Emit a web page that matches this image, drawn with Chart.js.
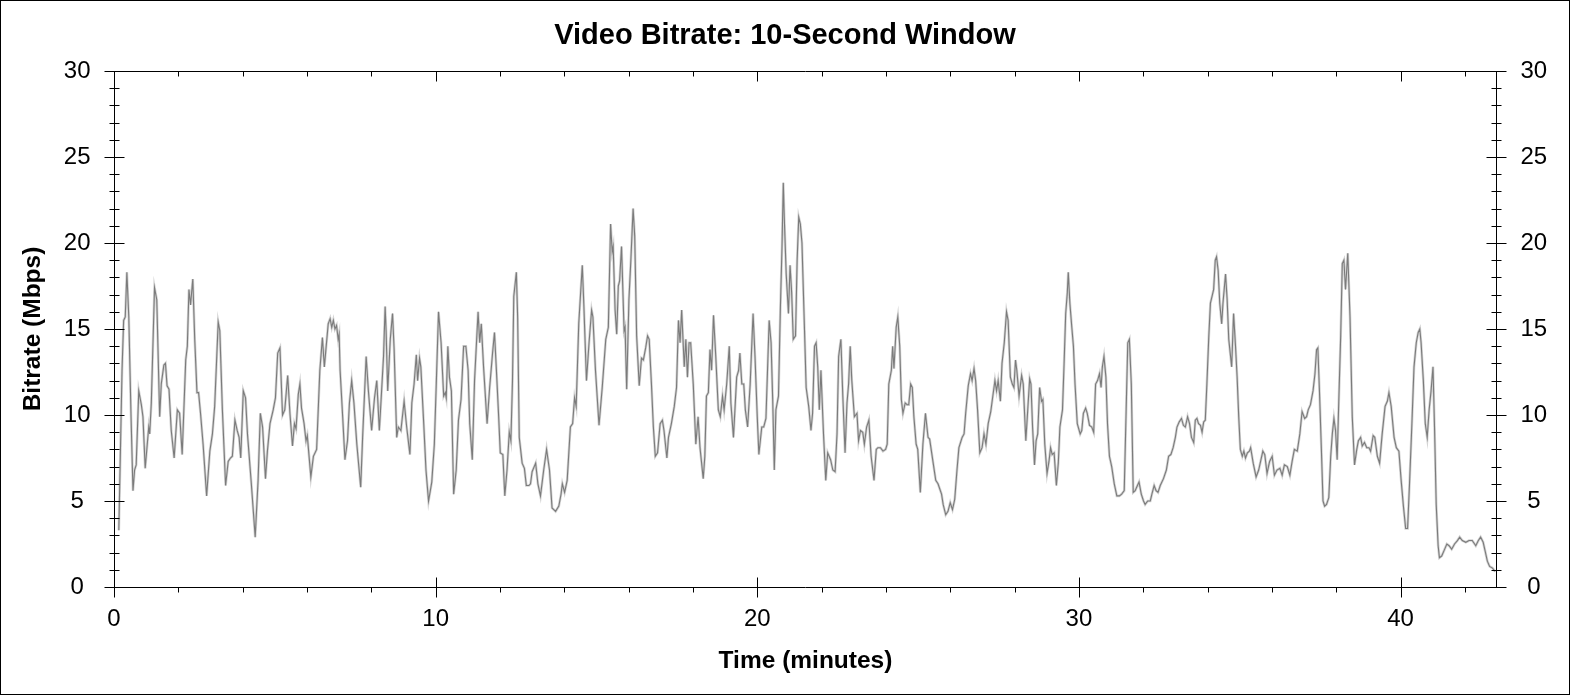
<!DOCTYPE html>
<html>
<head>
<meta charset="utf-8">
<title>Video Bitrate: 10-Second Window</title>
<script src="https://cdn.jsdelivr.net/npm/chart.js@4.4.1/dist/chart.umd.min.js"></script>
<style>
  html, body { margin: 0; padding: 0; background: #fff; }
  #wrap { width: 1570px; height: 695px; }
</style>
</head>
<body>
<div id="wrap"><canvas id="bitrateChart" width="1570" height="695"></canvas></div>
<script>
// time in minutes, bitrate in Mbps
const minutes = [
  0.15, 0.19, 0.25, 0.30, 0.35, 0.40, 0.46, 0.53, 0.59, 0.64, 0.69, 0.77, 0.85, 0.90, 0.97,
  1.08, 1.11, 1.16, 1.26, 1.33, 1.42, 1.47, 1.55, 1.60, 1.65, 1.71, 1.78, 1.87, 1.97,
  2.04, 2.12, 2.23, 2.28, 2.33, 2.38, 2.45, 2.51, 2.58, 2.63, 2.69, 2.77, 2.88, 2.98,
  3.06, 3.13, 3.24, 3.29, 3.37, 3.47, 3.55, 3.62, 3.68, 3.76, 3.83, 3.89, 3.94,
  4.02, 4.09, 4.15, 4.27, 4.39, 4.48, 4.55, 4.62, 4.71, 4.77, 4.85, 4.95,
  5.02, 5.09, 5.16, 5.24, 5.31, 5.40, 5.47, 5.55, 5.61, 5.66, 5.73, 5.78, 5.83, 5.91, 5.97,
  6.01, 6.12, 6.20, 6.30, 6.40, 6.48, 6.54, 6.66, 6.72, 6.77, 6.82, 6.87, 6.92, 6.97,
  7.00, 7.03, 7.11, 7.18, 7.26, 7.32, 7.39, 7.46, 7.55, 7.67, 7.73, 7.84, 7.91,
  8.01, 8.10, 8.17, 8.25, 8.32, 8.38, 8.43, 8.46, 8.51, 8.59, 8.66, 8.71, 8.79, 8.84, 8.92,
  9.02, 9.10, 9.20, 9.26, 9.33, 9.40, 9.44, 9.50, 9.54, 9.63, 9.70, 9.78, 9.88, 9.96,
  10.02, 10.09, 10.17, 10.25, 10.30, 10.33, 10.38, 10.43, 10.49, 10.56, 10.64, 10.71, 10.79, 10.87, 10.94,
  11.01, 11.06, 11.14, 11.21, 11.32, 11.37, 11.42, 11.49, 11.60, 11.68, 11.77, 11.83, 11.89, 11.96,
  12.01, 12.09, 12.15, 12.22, 12.29, 12.34, 12.39, 12.43, 12.51, 12.55, 12.60, 12.69, 12.76, 12.82, 12.90, 12.95,
  13.00, 13.11, 13.18, 13.26, 13.36, 13.45, 13.54, 13.62, 13.73, 13.83, 13.90, 13.94,
  14.01, 14.09, 14.19, 14.26, 14.32, 14.37, 14.45, 14.56, 14.61, 14.69, 14.77, 14.85, 14.89, 14.97,
  15.08, 15.18, 15.29, 15.37, 15.44, 15.49, 15.52, 15.58, 15.63, 15.68, 15.72, 15.78, 15.86, 15.89, 15.94,
  16.01, 16.07, 16.14, 16.19, 16.25, 16.33, 16.40, 16.46, 16.53, 16.59, 16.64, 16.71, 16.77, 16.83, 16.90, 16.98,
  17.05, 17.10, 17.19, 17.24, 17.33, 17.42, 17.49, 17.55, 17.60, 17.65, 17.73, 17.78, 17.83, 17.88, 17.93,
  18.01, 18.09, 18.16, 18.22, 18.32, 18.37, 18.42, 18.48, 18.53, 18.58, 18.64, 18.71, 18.79, 18.85, 18.92, 18.97,
  19.05, 19.13, 19.18, 19.26, 19.36, 19.42, 19.46, 19.52, 19.58, 19.63, 19.70, 19.78, 19.87, 19.93,
  20.00, 20.05, 20.14, 20.20, 20.27, 20.37, 20.43, 20.48, 20.53, 20.58, 20.66, 20.72, 20.77, 20.81, 20.84, 20.90, 20.97,
  21.02, 21.07, 21.12, 21.19, 21.24, 21.29, 21.34, 21.39, 21.47, 21.52, 21.60, 21.67, 21.72, 21.78, 21.83, 21.88, 21.93, 21.98,
  22.06, 22.13, 22.19, 22.28, 22.35, 22.42, 22.48, 22.53, 22.60, 22.66, 22.73, 22.79, 22.84, 22.89, 22.94,
  23.02, 23.10, 23.15, 23.21, 23.28, 23.33, 23.40, 23.47, 23.54, 23.63, 23.70, 23.75, 23.83, 23.91, 23.99,
  24.04, 24.09, 24.17, 24.21, 24.25, 24.32, 24.37, 24.43, 24.48, 24.53, 24.60, 24.66, 24.71, 24.77, 24.82, 24.87, 24.94, 24.99,
  25.07, 25.15, 25.23, 25.31, 25.36, 25.47, 25.55, 25.62, 25.73, 25.78, 25.86, 25.93,
  26.00, 26.07, 26.14, 26.21, 26.27, 26.37, 26.43, 26.48, 26.56, 26.63, 26.68, 26.74, 26.79, 26.85, 26.92, 26.99,
  27.05, 27.11, 27.18, 27.26, 27.31, 27.39, 27.44, 27.49, 27.56, 27.61, 27.68, 27.75, 27.80, 27.87, 27.93, 27.98,
  28.03, 28.07, 28.14, 28.22, 28.27, 28.35, 28.41, 28.47, 28.51, 28.56, 28.62, 28.67, 28.72, 28.78, 28.84, 28.88, 28.94,
  29.01, 29.07, 29.12, 29.17, 29.23, 29.30, 29.36, 29.41, 29.49, 29.54, 29.59, 29.64, 29.67, 29.72, 29.78, 29.83, 29.88, 29.95,
  30.04, 30.09, 30.14, 30.21, 30.26, 30.33, 30.40, 30.46, 30.52, 30.58, 30.64, 30.69, 30.73, 30.78, 30.84, 30.89, 30.95,
  31.02, 31.10, 31.18, 31.26, 31.33, 31.41, 31.47, 31.52, 31.57, 31.63, 31.69, 31.75, 31.82, 31.87, 31.94,
  32.01, 32.06, 32.14, 32.22, 32.27, 32.34, 32.40, 32.46, 32.53, 32.63, 32.72, 32.79, 32.86, 32.93,
  33.00, 33.05, 33.12, 33.19, 33.25, 33.31, 33.38, 33.44, 33.50, 33.57, 33.62, 33.67, 33.72, 33.78, 33.83, 33.88, 33.93, 33.98,
  34.04, 34.09, 34.14, 34.19, 34.24, 34.28, 34.33, 34.38, 34.44, 34.48, 34.56, 34.61, 34.66, 34.75, 34.77, 34.81, 34.87, 34.92, 34.97,
  35.02, 35.08, 35.13, 35.18, 35.24, 35.30, 35.34, 35.42, 35.51, 35.59, 35.72, 35.78, 35.85, 35.93,
  36.01, 36.08, 36.16, 36.25, 36.32, 36.39, 36.48, 36.56, 36.63, 36.70, 36.79, 36.87, 36.94,
  37.02, 37.08, 37.13, 37.20, 37.28, 37.34, 37.39, 37.43, 37.48, 37.54, 37.59, 37.64, 37.70, 37.77, 37.83, 37.88, 37.93, 37.98,
  38.03, 38.09, 38.14, 38.19, 38.24, 38.29, 38.36, 38.43, 38.50, 38.57, 38.64, 38.69, 38.76, 38.81, 38.88, 38.95,
  39.02, 39.07, 39.15, 39.20, 39.28, 39.35, 39.43, 39.52, 39.59, 39.64, 39.71, 39.80, 39.87, 39.95,
  40.02, 40.09, 40.16, 40.22, 40.28, 40.35, 40.42, 40.49, 40.55, 40.60, 40.64, 40.71, 40.77, 40.83, 40.89, 40.95,
  41.01, 41.06, 41.11, 41.17, 41.21, 41.28, 41.35, 41.44, 41.51, 41.59, 41.68, 41.77, 41.84, 41.92,
  42.03, 42.13, 42.23, 42.34, 42.42, 42.49, 42.57, 42.63, 42.70, 42.77, 42.86, 42.94
];

const mbps = [
  3.3, 7.0, 12.6, 15.5, 15.7, 18.3, 15.7, 9.9, 5.6, 6.8, 7.1, 11.4, 10.6, 9.9, 6.9,
  9.3, 8.9, 10.7, 17.4, 16.7, 9.9, 11.8, 12.9, 13.0, 11.7, 11.5, 9.1, 7.5, 10.3,
  10.1, 7.7, 13.2, 14.0, 17.3, 16.4, 17.9, 14.4, 11.3, 11.3, 10.1, 8.3, 5.3, 7.9,
  8.9, 10.5, 15.4, 14.9, 10.3, 5.9, 7.3, 7.5, 7.6, 9.7, 9.1, 8.7, 7.5,
  11.4, 11.0, 8.9, 6.0, 2.9, 6.2, 10.1, 9.3, 6.3, 7.9, 9.5, 10.3,
  11.0, 13.6, 13.9, 10.0, 10.3, 12.3, 10.1, 8.2, 9.5, 9.2, 11.2, 11.8, 10.4, 9.5, 8.5,
  8.8, 6.4, 7.6, 8.0, 12.6, 14.5, 12.8, 15.3, 15.6, 15.1, 15.5, 15.0, 15.2, 14.4,
  14.7, 12.6, 9.9, 7.4, 8.5, 10.7, 12.0, 10.7, 8.3, 5.8, 8.7, 13.4, 11.4,
  9.1, 11.0, 12.0, 9.1, 11.4, 13.4, 16.3, 14.9, 11.4, 14.4, 15.9, 13.8, 8.7, 9.3, 9.1,
  10.8, 9.3, 7.7, 10.7, 11.8, 13.5, 12.0, 13.3, 12.8, 9.5, 6.8, 5.0, 6.1, 8.3,
  11.8, 16.0, 14.2, 11.1, 11.3, 11.0, 14.0, 12.2, 11.4, 5.4, 6.8, 9.7, 10.9, 14.0, 14.0,
  12.6, 9.5, 7.4, 12.0, 16.0, 14.2, 15.3, 12.8, 9.5, 11.6, 13.6, 14.8, 12.6, 9.9,
  7.8, 7.7, 5.3, 6.8, 9.0, 8.5, 12.0, 16.9, 18.3, 15.7, 8.7, 7.2, 6.9, 5.9, 5.9, 6.0,
  6.7, 7.2, 6.0, 5.3, 6.8, 8.0, 6.8, 4.6, 4.4, 4.7, 5.4, 6.0,
  5.5, 6.2, 9.3, 9.5, 11.0, 10.5, 15.3, 18.7, 16.3, 12.0, 14.2, 16.1, 15.7, 12.6,
  9.4, 11.6, 14.4, 15.1, 21.1, 19.5, 19.8, 16.1, 14.7, 17.5, 17.8, 19.8, 14.9, 15.1, 11.5,
  16.7, 19.0, 22.0, 20.4, 14.6, 11.7, 13.3, 13.2, 13.9, 14.6, 14.4, 11.8, 9.3, 7.6, 7.8, 9.5,
  9.7, 9.1, 7.5, 8.7, 9.5, 10.5, 11.6, 15.5, 14.2, 16.1, 12.8, 14.4, 12.2, 14.2, 14.2,
  11.8, 8.3, 9.9, 8.1, 6.3, 7.6, 11.1, 11.3, 13.8, 12.6, 15.8, 13.4, 10.3, 9.9, 11.1, 10.3,
  11.8, 14.0, 10.7, 8.7, 12.2, 12.6, 13.6, 11.8, 11.8, 10.3, 9.3, 11.8, 15.9, 13.4,
  9.9, 7.7, 9.3, 9.3, 9.8, 15.5, 14.2, 10.9, 6.8, 10.3, 11.1, 16.3, 19.8, 23.5, 21.5, 18.2, 15.9,
  18.7, 17.1, 14.4, 14.6, 19.0, 21.5, 21.1, 20.0, 14.9, 11.6, 10.5, 9.1, 10.1, 14.0, 14.2, 12.8, 10.3, 12.6,
  8.9, 6.2, 7.8, 7.4, 6.8, 6.7, 8.9, 13.4, 14.4, 11.1, 7.8, 10.7, 11.8, 14.0, 12.0,
  9.9, 10.1, 8.5, 9.1, 9.0, 8.3, 9.3, 9.7, 7.6, 6.2, 8.0, 8.1, 8.1, 7.9, 8.0,
  8.3, 11.8, 12.6, 14.0, 12.7, 15.1, 15.7, 14.0, 10.9, 10.1, 10.7, 10.6, 10.6, 11.8, 11.6, 9.9, 8.3, 8.0,
  5.5, 8.3, 10.1, 8.7, 8.6, 7.2, 6.2, 6.0, 5.4, 4.8, 4.2, 4.4,
  4.9, 4.5, 5.1, 6.8, 8.1, 8.7, 8.9, 10.1, 11.7, 12.4, 12.0, 12.7, 12.0, 10.3, 7.8, 8.1,
  8.9, 8.3, 9.5, 10.2, 10.9, 12.0, 11.4, 12.0, 10.8, 13.0, 14.2, 16.0, 15.5, 12.2, 11.8, 11.6,
  13.2, 12.6, 11.1, 12.3, 11.8, 8.5, 10.3, 12.1, 11.8, 9.3, 7.1, 8.5, 8.9, 11.6, 10.8, 10.9, 8.3,
  6.6, 7.3, 8.1, 7.7, 7.8, 5.9, 7.2, 9.3, 10.3, 13.0, 15.9, 17.1, 18.3, 16.5, 15.1, 14.0, 11.8, 9.5,
  8.9, 9.1, 10.1, 10.4, 10.1, 9.4, 9.3, 9.0, 11.8, 12.0, 12.4, 11.6, 12.8, 13.4, 12.2, 9.5, 7.6,
  7.0, 6.0, 5.3, 5.3, 5.4, 5.6, 10.3, 14.2, 14.4, 11.8, 5.5, 5.6, 5.9, 6.1, 5.4,
  5.0, 4.8, 5.0, 5.0, 5.4, 5.9, 5.6, 5.5, 5.9, 6.3, 6.8, 7.6, 7.7, 8.1,
  8.7, 9.3, 9.6, 9.8, 9.4, 9.3, 9.9, 9.5, 8.7, 8.4, 9.7, 9.8, 9.5, 9.4, 9.0, 9.6, 9.7, 11.8,
  14.6, 16.5, 16.9, 17.3, 19.0, 19.2, 18.4, 16.5, 15.3, 16.5, 18.2, 16.7, 14.4, 12.8, 13.8, 15.9, 14.0, 12.2, 9.9,
  8.0, 7.6, 7.9, 7.5, 7.8, 7.9, 8.1, 7.2, 6.4, 6.8, 7.9, 7.7, 6.6, 7.3,
  7.6, 6.5, 6.8, 6.9, 6.5, 7.1, 7.0, 6.5, 7.3, 8.0, 7.9, 8.9, 10.2,
  9.8, 9.9, 10.3, 10.6, 11.4, 12.4, 13.8, 13.9, 11.4, 8.0, 5.0, 4.7, 4.8, 5.2, 7.6, 8.9, 9.8, 9.1,
  7.4, 11.4, 14.6, 18.8, 19.0, 17.3, 19.4, 15.7, 9.9, 7.1, 8.0, 8.5, 8.7, 8.2, 8.4, 8.1,
  8.1, 7.9, 8.8, 8.7, 7.6, 7.2, 8.9, 10.5, 10.8, 11.3, 10.5, 8.7, 8.1, 7.9,
  6.2, 4.7, 3.4, 3.4, 6.0, 9.3, 12.8, 14.2, 14.8, 15.0, 14.2, 12.0, 9.5, 8.7, 10.3, 11.4,
  12.8, 9.1, 4.8, 2.4, 1.7, 1.8, 2.1, 2.5, 2.4, 2.2, 2.5, 2.7, 2.9, 2.7,
  2.6, 2.7, 2.7, 2.4, 2.7, 2.9, 2.6, 2.1, 1.5, 1.2, 1.1, 0.9
];

const yTicks = [0, 5, 10, 15, 20, 25, 30];
const xTicks = [0, 10, 20, 30, 40];

const points = minutes.map((m, i) => ({ x: m, y: mbps[i] }));

Chart.defaults.font.family = "'Liberation Sans', Arial, sans-serif";
Chart.defaults.color = '#000';

// axis frame with crossing major/minor ticks, like the original plot
const frameTicks = {
  id: 'frameTicks',
  beforeDraw(chart) {
    const ctx = chart.ctx;
    ctx.save();
    ctx.fillStyle = '#fff';
    ctx.fillRect(0, 0, chart.width, chart.height);
    ctx.restore();
  },
  afterDraw(chart) {
    const { ctx, chartArea: a, scales } = chart;
    const L = Math.round(a.left) + 0.5;
    const R = Math.round(a.right) - 0.5;
    const T = Math.round(a.top) + 0.5;
    const B = Math.round(a.bottom) + 0.5;
    ctx.save();
    ctx.strokeStyle = '#000';
    ctx.lineWidth = 1;
    ctx.beginPath();
    ctx.rect(L, T, R - L, B - T);
    // y ticks, both sides
    for (let v = 0; v <= 30; v++) {
      const py = Math.round(scales.y.getPixelForValue(v)) + 0.5;
      const len = v % 5 === 0 ? 10 : 5;
      ctx.moveTo(L - len, py); ctx.lineTo(L + len, py);
      ctx.moveTo(R - len, py); ctx.lineTo(R + len, py);
    }
    // x ticks every 2 minutes
    for (let t = 0; t <= 42; t += 2) {
      const px = Math.round(scales.x.getPixelForValue(t)) + 0.5;
      if (t % 10 === 0) {
        ctx.moveTo(px, B - 10); ctx.lineTo(px, B + 10);
        ctx.moveTo(px, T); ctx.lineTo(px, T + 10);
      } else {
        ctx.moveTo(px, B); ctx.lineTo(px, B + 5);
        ctx.moveTo(px, T); ctx.lineTo(px, T + 5);
      }
    }
    ctx.stroke();
    // outer border of the picture
    ctx.strokeRect(0.5, 0.5, chart.width - 1, chart.height - 1);
    ctx.restore();
  }
};

const tickFont = { size: 24 };
const titleFont = { size: 24.5, weight: 'bold' };

new Chart(document.getElementById('bitrateChart'), {
  type: 'line',
  data: {
    datasets: [
      {
        label: 'Bitrate',
        data: points,
        borderColor: '#7b7b7b',
        borderWidth: 1.1,
        pointRadius: 0,
        tension: 0,
        fill: false
      },
      {
        label: 'halo',
        data: points,
        borderColor: '#d4d4d4',
        borderWidth: 2.6,
        pointRadius: 0,
        tension: 0,
        fill: false
      }
    ]
  },
  options: {
    responsive: false,
    devicePixelRatio: 1,
    animation: false,
    layout: { padding: 0 },
    plugins: {
      legend: { display: false },
      tooltip: { enabled: false },
      title: {
        display: true,
        text: 'Video Bitrate: 10-Second Window',
        color: '#000',
        font: { size: 29, weight: 'bold' },
        padding: { top: 19, bottom: 17.2 }
      }
    },
    scales: {
      x: {
        type: 'linear',
        min: 0,
        max: 43.0,
        afterFit: (s) => { s.height = 108; },
        afterBuildTicks: (s) => { s.ticks = xTicks.map(v => ({ value: v })); },
        ticks: { font: tickFont, padding: 8, autoSkip: false, maxRotation: 0, includeBounds: false },
        grid: { display: false, drawTicks: true, tickLength: 10 },
        border: { display: false },
        title: { display: true, text: 'Time (minutes)', font: titleFont, padding: { top: 0, bottom: 18.6 } }
      },
      y: {
        position: 'left',
        min: 0,
        max: 30,
        afterFit: (s) => { s.width = 114; },
        afterBuildTicks: (s) => { s.ticks = yTicks.map(v => ({ value: v })); },
        ticks: { font: tickFont, padding: 13.5, crossAlign: 'center' },
        grid: { display: false, drawTicks: true, tickLength: 10 },
        border: { display: false },
        title: { display: true, text: 'Bitrate (Mbps)', font: titleFont, padding: { top: 18.6, bottom: 0 } }
      },
      y2: {
        position: 'right',
        min: 0,
        max: 30,
        afterFit: (s) => { s.width = 73; },
        afterBuildTicks: (s) => { s.ticks = yTicks.map(v => ({ value: v })); },
        ticks: { font: tickFont, padding: 13.5, crossAlign: 'center' },
        grid: { display: false, drawTicks: true, tickLength: 10 },
        border: { display: false }
      }
    }
  },
  plugins: [frameTicks]
});
</script>
</body>
</html>
